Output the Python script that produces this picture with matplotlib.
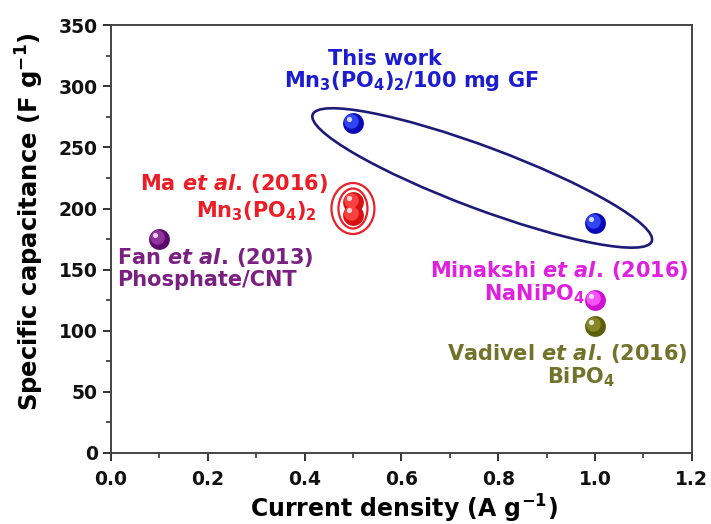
import matplotlib
matplotlib.use('Agg')
import matplotlib.pyplot as plt
import matplotlib.transforms as mtransforms
from matplotlib.patches import Ellipse
from matplotlib.ticker import MultipleLocator


# current density (A/g) and specific capacitance (F/g) for each material
this_work_x = [0.5, 1.0]
this_work_y = [270, 188]
ma_x = [0.5, 0.5]
ma_y = [205, 195]
fan_x = [0.1]
fan_y = [175]
minakshi_x = [1.0]
minakshi_y = [125]
vadivel_x = [1.0]
vadivel_y = [104]

x_ticks = [0.0, 0.2, 0.4, 0.6, 0.8, 1.0, 1.2]
y_ticks = [0, 50, 100, 150, 200, 250, 300, 350]

plt.rcParams['font.family'] = ['DejaVu Sans']
plt.rcParams['font.weight'] = 'bold'
plt.rcParams['axes.labelweight'] = 'bold'
plt.rcParams['mathtext.fontset'] = 'custom'
plt.rcParams['mathtext.rm'] = 'DejaVu Sans:bold'
plt.rcParams['mathtext.bf'] = 'DejaVu Sans:bold'
plt.rcParams['mathtext.it'] = 'DejaVu Sans:bold:italic'


def draw_balls(ax, xs, ys, dark, light):
    # shaded sphere: dark body, lighter core shifted up-left, small glint
    ax.scatter(xs, ys, s=225, color=dark, zorder=5, linewidths=0)
    shift = mtransforms.offset_copy(ax.transData, fig=ax.figure, x=-1.4, y=1.4, units='points')
    ax.scatter(xs, ys, s=110, color=light, zorder=6, linewidths=0, transform=shift, alpha=0.85)
    glint = mtransforms.offset_copy(ax.transData, fig=ax.figure, x=-2.8, y=3.0, units='points')
    ax.scatter(xs, ys, s=14, color='white', zorder=7, linewidths=0, transform=glint, alpha=0.8)


def ring(ax, cx, cy, w, h, angle, color, lw):
    # ellipse sized in inches, anchored at a data point
    tr = ax.figure.dpi_scale_trans + mtransforms.ScaledTranslation(cx, cy, ax.transData)
    ax.add_patch(Ellipse((0, 0), w, h, angle=angle, fill=False, edgecolor=color,
                         linewidth=lw, transform=tr, zorder=4))


fig = plt.figure(figsize=(7.11, 5.24), dpi=100)
ax = fig.add_axes([0.156, 0.1355, 0.817, 0.8165])

ax.set_xlim(0, 1.2)
ax.set_ylim(0, 350)
ax.set_xticks(x_ticks)
ax.set_yticks(y_ticks)
ax.set_xticklabels([f'{v:.1f}' for v in x_ticks], fontweight='bold')
ax.set_yticklabels([str(v) for v in y_ticks], fontweight='bold')
ax.xaxis.set_minor_locator(MultipleLocator(0.1))
ax.yaxis.set_minor_locator(MultipleLocator(25))
ax.tick_params(which='major', direction='out', length=6, width=1.4, labelsize=13.5,
               top=False, right=False, colors='#333333', labelcolor='#111111')
ax.tick_params(which='minor', direction='out', length=3.5, width=1.2,
               top=False, right=False, colors='#333333')
ax.tick_params(axis='x', pad=6)
for sp in ax.spines.values():
    sp.set_linewidth(1.4)
    sp.set_color('#444444')

ax.set_xlabel('Current density (A g$^{\\mathbf{-1}}$)', fontsize=17)
ax.set_ylabel('Specific capacitance (F g$^{\\mathbf{-1}}$)', fontsize=17.5)
ax.xaxis.set_label_coords(0.504, -0.093)
ax.yaxis.set_label_coords(-0.112, 0.54)

ring(ax, 0.767, 225, 3.62, 0.62, -20.5, '#1c1c78', 1.9)
ring(ax, 0.5, 200, 0.43, 0.51, 0, '#e8202a', 1.6)
ring(ax, 0.5, 200, 0.29, 0.40, 0, '#e8202a', 1.6)

draw_balls(ax, fan_x, fan_y, '#5a0a68', '#9a3aa8')
draw_balls(ax, ma_x, ma_y, '#d81010', '#ff4a4a')
draw_balls(ax, this_work_x, this_work_y, '#0a0ab8', '#3a50ff')
draw_balls(ax, minakshi_x, minakshi_y, '#d010d0', '#ff60ff')
draw_balls(ax, vadivel_x, vadivel_y, '#5e5e08', '#8e8e30')

fs = 15
blue = '#1c1cd0'
ax.text(0.566, 317, 'This work', color=blue, fontsize=fs, ha='center', va='baseline')
ax.text(0.620, 299, 'Mn$_3$(PO$_4$)$_2$/100 mg GF', color=blue, fontsize=fs,
        ha='center', va='baseline')

red = '#ee1c24'
ax.text(0.448, 215, 'Ma $et\\ al.\\,$(2016)', color=red, fontsize=fs, ha='right', va='baseline')
ax.text(0.426, 193, 'Mn$_3$(PO$_4$)$_2$', color=red, fontsize=fs, ha='right', va='baseline')

purple = '#7a2080'
ax.text(0.012, 155, 'Fan $et\\ al.\\,$(2013)', color=purple, fontsize=fs, ha='left', va='baseline')
ax.text(0.012, 137, 'Phosphate/CNT', color=purple, fontsize=fs, ha='left', va='baseline')

magenta = '#e020e0'
ax.text(1.192, 144, 'Minakshi $et\\ al.\\,$(2016)', color=magenta, fontsize=fs,
        ha='right', va='baseline')
ax.text(0.979, 125, 'NaNiPO$_4$', color=magenta, fontsize=fs, ha='right', va='baseline')

olive = '#72722a'
ax.text(1.192, 76, 'Vadivel $et\\ al.\\,$(2016)', color=olive, fontsize=fs,
        ha='right', va='baseline')
ax.text(1.04, 57, 'BiPO$_4$', color=olive, fontsize=fs, ha='right', va='baseline')

fig.savefig('out.png', dpi=100)
